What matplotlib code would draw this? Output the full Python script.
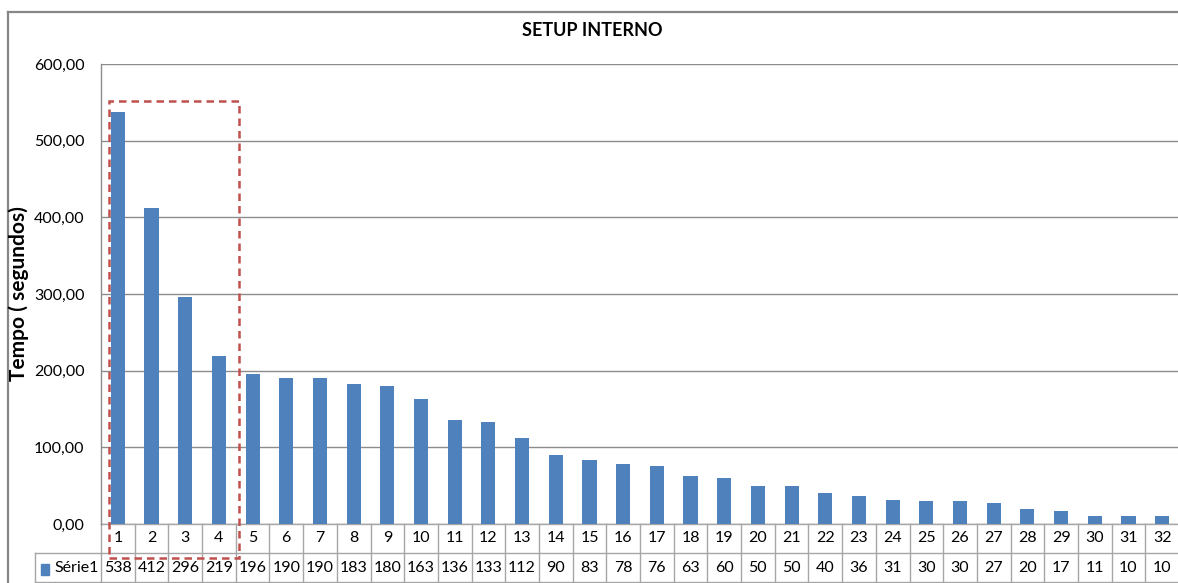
import matplotlib
matplotlib.use("Agg")
import matplotlib.pyplot as plt
from matplotlib.patches import Rectangle
from matplotlib.lines import Line2D

categories = [str(i) for i in range(1, 33)]
values = [538, 412, 296, 219, 196, 190, 190, 183, 180, 163, 136, 133, 112, 90, 83,
          78, 76, 63, 60, 50, 50, 40, 36, 31, 30, 30, 27, 20, 17, 11, 10, 10]
series_name = "Série1"
yticks = [0, 100, 200, 300, 400, 500, 600]
title = "SETUP INTERNO"
ylabel = "Tempo ( segundos)"

plt.rcParams['font.family'] = ['Lato', 'DejaVu Sans']

W, H = 1178, 583
fig = plt.figure(figsize=(W / 100, H / 100), dpi=100)
fig.patch.set_facecolor('white')

left_px, right_px, top_px, bot_px = 101, 1179, 64, 524
ax = fig.add_axes([left_px / W, (H - bot_px) / H, (right_px - left_px) / W, (bot_px - top_px) / H])

blue = '#4F81BD'
grid_c = '#8C8C8C'
tbl_c = '#A6A6A6'

x = list(range(len(values)))
ax.bar(x, values, width=0.42, color=blue, zorder=3)
ax.set_xlim(-0.5, len(values) - 0.5)
ax.set_ylim(0, 600)
ax.set_yticks(yticks)
ax.set_yticklabels([f"{v:.2f}".replace('.', ',') for v in yticks], fontsize=11.5)
ax.tick_params(axis='y', length=0, pad=12)
ax.set_xticks([])
ax.grid(axis='y', color=grid_c, linewidth=1.0, zorder=0)
for s in ['top', 'right', 'bottom']:
    ax.spines[s].set_visible(False)
ax.spines['left'].set_color(grid_c)
ax.spines['left'].set_linewidth(1.0)

# title and y label
fig.text(592 / W, 1 - 31 / H, title, ha='center', va='center', fontsize=13, fontweight='bold')
fig.text(19 / W, 1 - 294 / H, ylabel, ha='center', va='center', rotation=90,
         fontsize=15, fontweight='bold')

# data table
row_h = 29 / (bot_px - top_px)  # in axes fraction
trans = ax.get_xaxis_transform()
n = len(values)
for r in range(3):
    yy = -r * row_h
    ax.add_line(Line2D([-0.5, n - 0.5], [yy, yy], transform=trans, color=tbl_c, lw=1.0, clip_on=False))
for i in range(n + 1):
    ax.add_line(Line2D([i - 0.5, i - 0.5], [0, -2 * row_h], transform=trans, color=tbl_c,
                       lw=1.0, clip_on=False))
for i, (c, v) in enumerate(zip(categories, values)):
    ax.text(i, -0.5 * row_h, c, transform=trans, ha='center', va='center', fontsize=11.5, clip_on=False)
    ax.text(i, -1.5 * row_h, str(v), transform=trans, ha='center', va='center', fontsize=11.5, clip_on=False)

# series legend cell (figure pixel coordinates)
def fx(px):
    return px / W
def fy(py):
    return 1 - py / H
cell_l = 35
fig.add_artist(Line2D([fx(cell_l), fx(left_px)], [fy(bot_px + 29), fy(bot_px + 29)], color=tbl_c, lw=1.0))
fig.add_artist(Line2D([fx(cell_l), fx(left_px)], [fy(bot_px + 58), fy(bot_px + 58)], color=tbl_c, lw=1.0))
fig.add_artist(Line2D([fx(cell_l), fx(cell_l)], [fy(bot_px + 29), fy(bot_px + 58)], color=tbl_c, lw=1.0))
fig.add_artist(Rectangle((fx(41), fy(575)), 8 / W, 11 / H, color=blue, transform=fig.transFigure))
fig.text(fx(54), fy(bot_px + 43.5), series_name, ha='left', va='center', fontsize=11.5)

# outer chart border (left and top)
border_c = '#878787'
fig.add_artist(Line2D([fx(8), fx(8)], [fy(12), 0], color=border_c, lw=1.6))
fig.add_artist(Line2D([fx(8), 1], [fy(12), fy(12)], color=border_c, lw=1.6))

# red dashed highlight box
px_per_unit = (bot_px - top_px) / 600
px_per_cat = (right_px - left_px) / n
bx0 = (109 - left_px) / px_per_cat - 0.5
bx1 = (239 - left_px) / px_per_cat - 0.5
by0 = -(558 - bot_px) / px_per_unit
by1 = (bot_px - 101) / px_per_unit
ax.add_patch(Rectangle((bx0, by0), bx1 - bx0, by1 - by0, fill=False, edgecolor='#C0504D',
                       lw=1.8, linestyle=(0, (3, 2)), clip_on=False, zorder=5))

fig.savefig('out.png', dpi=100, facecolor='white')
